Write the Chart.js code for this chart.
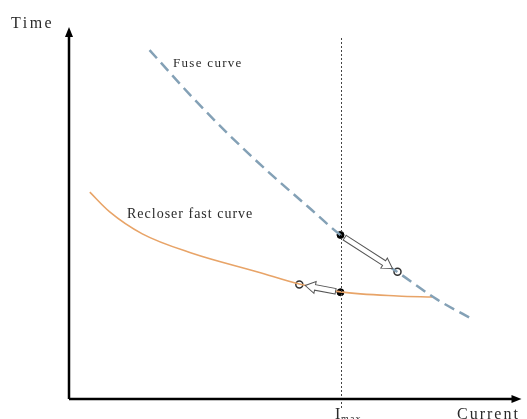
<!DOCTYPE html>
<html><head><meta charset="utf-8">
<script src="https://cdn.jsdelivr.net/npm/chart.js@4"></script>
<style>html,body{margin:0;padding:0;background:#fff;}#w{width:527px;height:419px;}</style>
</head><body><div id="w"><canvas id="c"></canvas></div>
<script>
// Data (arbitrary units: current 0..100, time 0..100)
const fuseX = [17.8, 26.5, 35.3, 44.1, 52.9, 60.0, 72.6, 81.4, 88.6];
const fuseY = [93.8, 82.1, 71.1, 61.0, 51.6, 44.1, 34.1, 26.7, 21.8];
const recX = [4.6, 9.0, 16.2, 27.2, 41.9, 50.9, 60.0, 72.6, 80.3];
const recY = [55.6, 50.3, 44.4, 39.2, 34.1, 30.9, 28.8, 27.7, 27.4];
const iMax = 60;
const filledX = [60, 60];
const filledY = [44.1, 28.7];
const hollowX = [72.6, 50.9];
const hollowY = [34.2, 30.8];
const labels = ["Time", "Current", "Fuse curve", "Recloser fast curve"];

const pts = (xs, ys) => xs.map((x, i) => ({x, y: ys[i]}));

function txt(ctx, s, x, y, size, sp) {
  ctx.font = size + 'px "Liberation Serif"';
  ctx.letterSpacing = sp + 'px';
  ctx.fillText(s, x, y);
}

const overlay = {
  id: 'overlay',
  afterDatasetsDraw(chart) {
    const {ctx, chartArea: a, scales: {x, y}} = chart;
    ctx.save();
    // vertical Imax dashed line
    ctx.strokeStyle = '#444'; ctx.lineWidth = 1; ctx.setLineDash([2, 2]);
    const xm = Math.round(x.getPixelForValue(iMax)) + 0.5;
    ctx.beginPath(); ctx.moveTo(xm, 38); ctx.lineTo(xm, 408); ctx.stroke();
    ctx.setLineDash([]);
    // axes
    ctx.strokeStyle = '#000'; ctx.fillStyle = '#000'; ctx.lineWidth = 2.5;
    ctx.beginPath(); ctx.moveTo(a.left, a.bottom); ctx.lineTo(a.left, a.top + 6);
    ctx.moveTo(a.left, a.bottom); ctx.lineTo(a.right - 6, a.bottom); ctx.stroke();
    ctx.beginPath(); ctx.moveTo(a.left, a.top); ctx.lineTo(a.left - 4, a.top + 10); ctx.lineTo(a.left + 4, a.top + 10); ctx.closePath(); ctx.fill();
    ctx.beginPath(); ctx.moveTo(a.right, a.bottom); ctx.lineTo(a.right - 10, a.bottom - 4); ctx.lineTo(a.right - 10, a.bottom + 4); ctx.closePath(); ctx.fill();
    // hollow arrows from filled dots to hollow circles
    for (let i = 0; i < filledX.length; i++) {
      const x0 = x.getPixelForValue(filledX[i]), y0 = y.getPixelForValue(filledY[i]);
      const x1 = x.getPixelForValue(hollowX[i]), y1 = y.getPixelForValue(hollowY[i]);
      const ang = Math.atan2(y1 - y0, x1 - x0);
      const len = Math.hypot(x1 - x0, y1 - y0);
      const s = 5, e = len - 6, hw = 2.8, hl = 10, hh = 6;
      ctx.save(); ctx.translate(x0, y0); ctx.rotate(ang);
      ctx.beginPath();
      ctx.moveTo(s, -hw); ctx.lineTo(e - hl, -hw); ctx.lineTo(e - hl, -hh); ctx.lineTo(e, 0);
      ctx.lineTo(e - hl, hh); ctx.lineTo(e - hl, hw); ctx.lineTo(s, hw); ctx.closePath();
      ctx.fillStyle = '#fff'; ctx.fill();
      ctx.strokeStyle = '#555'; ctx.lineWidth = 1; ctx.stroke();
      ctx.restore();
    }
    // texts
    ctx.fillStyle = '#2a2a2a'; ctx.textBaseline = 'alphabetic';
    txt(ctx, labels[0], 11, 28, 16, 2.5);
    txt(ctx, labels[1], 457, 419, 16, 2);
    txt(ctx, 'I', 335, 419, 16, 0);
    txt(ctx, 'max', 341, 422, 10, 1.2);
    txt(ctx, labels[2], 173, 67, 13, 1.3);
    txt(ctx, labels[3], 127, 218, 14, 1);
    ctx.restore();
  }
};

new Chart(document.getElementById('c'), {
  type: 'scatter',
  data: {
    datasets: [
      {data: pts(fuseX, fuseY), showLine: true, borderColor: '#84a1b6', borderWidth: 2.5, borderDash: [11, 6], pointRadius: 0, cubicInterpolationMode: 'monotone'},
      {data: pts(recX, recY), showLine: true, borderColor: '#e8a468', borderWidth: 1.6, pointRadius: 0, cubicInterpolationMode: 'monotone'},
      {data: pts(filledX, filledY), pointRadius: 3.5, pointBackgroundColor: '#000', pointBorderColor: '#000', showLine: false},
      {data: pts(hollowX, hollowY), pointRadius: 3.5, pointBackgroundColor: '#fff', pointBorderColor: '#333', pointBorderWidth: 1.5, showLine: false}
    ]
  },
  options: {
    responsive: true, maintainAspectRatio: false, animation: false,
    layout: {padding: {left: 69, right: 2, top: 27, bottom: 20}},
    plugins: {legend: {display: false}, tooltip: {enabled: false}},
    scales: {
      x: {type: 'linear', min: 0, max: 100, display: false},
      y: {type: 'linear', min: 0, max: 100, display: false}
    }
  },
  plugins: [overlay]
});
</script></body></html>
